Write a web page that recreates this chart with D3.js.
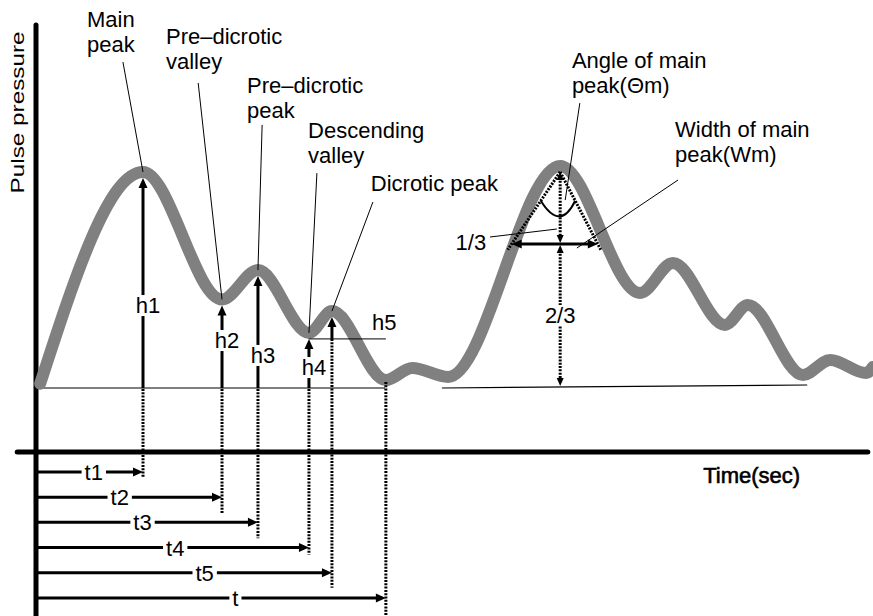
<!DOCTYPE html>
<html><head><meta charset="utf-8">
<script src="https://cdn.jsdelivr.net/npm/d3@7"></script>
<style>
body{margin:0;background:#fff}
text{font-family:"Liberation Sans",Arial,sans-serif;fill:#000}
</style>
</head><body>
<svg id="c" width="873" height="616"></svg>
<script>
// ---- data (time in s, relative pulse pressure) ----
const waveTime = [0.01,0.256,0.445,0.531,0.653,0.708,0.837,0.900,0.986,1.254,1.445,1.524,1.648,1.703,1.835,1.900,1.986,2.002];
const wavePressure = [0.02,1.0,0.41,0.546,0.255,0.356,0.037,0.093,0.051,1.028,0.44,0.579,0.292,0.384,0.06,0.13,0.069,0.097];

const featureLines = [["Main","peak"],["Pre–dicrotic","valley"],["Pre–dicrotic","peak"],["Descending","valley"],["Dicrotic peak"]];
const hLabels = ["h1","h2","h3","h4","h5"];
const featureTime = [0.256,0.445,0.531,0.653,0.708];
const featurePressure = [1.0,0.41,0.546,0.255,0.356];

const tLabels = ["t1","t2","t3","t4","t5","t"];
const tTimes = [0.256,0.445,0.531,0.653,0.708,0.837];

const peak2Time = 1.254, peak2Pressure = 1.028;
const wmTimes = [1.138,1.344];
const peak2Lines = [["Angle of main","peak(Θm)"],["Width of main","peak(Wm)"]];
const fracLabels = ["1/3","2/3"];
const axisLabels = ["Pulse pressure","Time(sec)"];

// ---- annotation layout (data coords) ----
const labelT = [0.122,0.311,0.505,0.651,0.801];
const labelP = [1.671,1.593,1.366,1.157,0.912];
const leaderT = [0.208,0.388,0.541,0.672,0.806];
const leaderP = [1.509,1.412,1.218,0.995,0.861];
const hLabelP = [0.347,0.185,0.116,0.060,0.269];
const tLabelFrac = [0.54,0.45,0.48,0.51,0.57,0.57];
const dotExtend = [6,16,16,7,15,20];

const svg = d3.select("#c");
const x = d3.scaleLinear().domain([0,2]).range([36,872]);
const y = d3.scaleLinear().domain([0,1]).range([388,172]);
const FS = 22;

function arrowHead(g,x1,y1,x2,y2,len,wid){
  const dx=x2-x1, dy=y2-y1, L=Math.hypot(dx,dy), ux=dx/L, uy=dy/L;
  const bx=x2-ux*len, by=y2-uy*len;
  g.append("path").attr("d",`M${x2},${y2}L${bx-uy*wid/2},${by+ux*wid/2}L${bx+uy*wid/2},${by-ux*wid/2}Z`).attr("fill","#000");
}
function arrow(g,x1,y1,x2,y2,o){
  o=Object.assign({w:3,len:10,wid:9,start:false,end:true,dash:null},o||{});
  const dx=x2-x1, dy=y2-y1, L=Math.hypot(dx,dy), ux=dx/L, uy=dy/L;
  const s=o.start?o.len*0.7:0, e=o.end?o.len*0.7:0;
  const ln=g.append("line").attr("x1",x1+ux*s).attr("y1",y1+uy*s).attr("x2",x2-ux*e).attr("y2",y2-uy*e)
    .attr("stroke","#000").attr("stroke-width",o.w);
  if(o.dash) ln.attr("stroke-dasharray",o.dash);
  if(o.end) arrowHead(g,x1,y1,x2,y2,o.len,o.wid);
  if(o.start) arrowHead(g,x2,y2,x1,y1,o.len,o.wid);
}
function line(g,x1,y1,x2,y2,w,dash){
  const l=g.append("line").attr("x1",x1).attr("y1",y1).attr("x2",x2).attr("y2",y2).attr("stroke","#000").attr("stroke-width",w);
  if(dash) l.attr("stroke-dasharray",dash);
  return l;
}
function boxedText(g,str,cx,by,anchor){
  const t=g.append("text").attr("x",cx).attr("y",by).attr("font-size",FS).attr("text-anchor",anchor||"middle").text(str);
  const b=t.node().getBBox();
  g.insert("rect",()=>t.node()).attr("x",b.x-3).attr("y",b.y+2).attr("width",b.width+6).attr("height",b.height-4).attr("fill","#fff");
  return t;
}

const gBase = svg.append("g"), gWave = svg.append("g"), gAnn = svg.append("g");

// baselines
line(gBase,x(0.002),y(0),x(0.835),y(0),1.2);
line(gBase,x(0.971),y(0),x(1.845),y(0.014),1.2);

// axes
const axisY = y(-0.296);
line(gBase,x(-0.045),axisY,x(1.99),axisY,5).attr("stroke-linecap","round");
line(gBase,x(0),y(1.68),x(0),640,5).attr("stroke-linecap","round");
gBase.append("text").attr("transform",`translate(${x(-0.043)+6},${y(1.276)}) rotate(-90)`)
  .attr("text-anchor","middle").attr("font-size",19).attr("textLength",162).attr("lengthAdjust","spacingAndGlyphs").text(axisLabels[0]);
gBase.append("text").attr("x",x(1.596)).attr("y",axisY+31).attr("font-size",22)
  .attr("stroke","#000").attr("stroke-width",0.6).attr("textLength",97).attr("lengthAdjust","spacingAndGlyphs").text(axisLabels[1]);

// waveform
const pts = waveTime.map((t,i)=>[t,wavePressure[i]]);
gWave.append("path").datum(pts)
  .attr("d",d3.line().x(d=>x(d[0])).y(d=>y(d[1])).curve(d3.curveMonotoneX))
  .attr("fill","none").attr("stroke","#808080").attr("stroke-width",12).attr("stroke-linecap","round").attr("stroke-linejoin","round");

// feature labels and leaders
featureLines.forEach((lines,i)=>{
  const t=gAnn.append("text").attr("x",x(labelT[i])).attr("y",y(labelP[i])).attr("font-size",FS);
  lines.forEach((s,j)=>t.append("tspan").attr("x",x(labelT[i])).attr("dy",j?25:0).text(s));
  line(gAnn,x(leaderT[i]),y(leaderP[i]),x(featureTime[i]),y(featurePressure[i]),1);
});

// h arrows
const DOT="2,1.3";
const h5LineY = y(featurePressure[3])+6;
featureTime.forEach((t,i)=>{
  const cx=x(t), tip=y(featurePressure[i])+6;
  if(i<4){
    arrow(gAnn,cx,y(0),cx,tip,{w:3});
  } else {
    arrow(gAnn,cx,h5LineY,cx,tip,{w:3});
  }
});
line(gAnn,x(featureTime[3]),h5LineY,x(0.837),h5LineY,1);
hLabels.forEach((s,i)=>{
  if(i<4) boxedText(gAnn,s,x(featureTime[i])+5,y(hLabelP[i]));
  else gAnn.append("text").attr("x",x(0.804)).attr("y",y(hLabelP[i])).attr("font-size",FS).text(s);
});

// t arrows and dotted drops
tTimes.forEach((t,i)=>{
  const ry = axisY + 20 + i*25.2, cx=x(t);
  const top = i<4 ? y(0)+1 : (i===4 ? h5LineY : y(0)-6);
  line(gAnn,cx,top,cx,ry+dotExtend[i],3,DOT);
  arrow(gAnn,x(0)+2,ry,cx,ry,{w:3});
  boxedText(gAnn,tLabels[i],x(0)+(cx-x(0))*tLabelFrac[i],ry+8);
});

// second peak annotations
const ax=x(peak2Time), ay=y(peak2Pressure)+6, by0=y(0)-2;
const wmY = ay + (y(0)-ay)/3;
const lx=x(wmTimes[0]), rx=x(wmTimes[1]);
line(gAnn,ax,ay,ax+(lx-ax)*1.08,ay+(wmY-ay)*1.08,3,DOT);
line(gAnn,ax,ay,ax+(rx-ax)*1.08,ay+(wmY-ay)*1.08,3,DOT);
const f=0.4;
gAnn.append("path").attr("d",`M${ax+(lx-ax)*f},${ay+(wmY-ay)*f}Q${ax},${ay+60} ${ax+(rx-ax)*f},${ay+(wmY-ay)*f}`)
  .attr("fill","none").attr("stroke","#000").attr("stroke-width",2);
arrow(gAnn,lx,wmY,rx,wmY,{w:3,start:true,end:true});
arrow(gAnn,ax,ay,ax,wmY-1,{w:3,start:true,end:true,dash:DOT,len:8,wid:7});
arrow(gAnn,ax,wmY+1,ax,by0,{w:3,start:true,end:true,dash:DOT,len:8,wid:7});
boxedText(gAnn,fracLabels[1],ax,(wmY+by0)/2+8).attr("font-size",FS);
// 1/3 label + leader
gAnn.append("text").attr("x",x(1.077)).attr("y",y(0.639)).attr("font-size",FS).attr("text-anchor","end").text(fracLabels[0]);
line(gAnn,x(1.086),y(0.699),x(1.246),y(0.736),1);
// angle / width labels
const p2T=[1.282,1.529], p2P=[1.481,1.162];
const p2LeadFrom=[[1.301,1.319],[1.536,0.963]], p2LeadTo=[[1.266,0.870],[1.294,0.648]];
peak2Lines.forEach((lines,i)=>{
  const t=gAnn.append("text").attr("x",x(p2T[i])).attr("y",y(p2P[i])).attr("font-size",FS);
  lines.forEach((s,j)=>t.append("tspan").attr("x",x(p2T[i])).attr("dy",j?25:0).text(s));
  line(gAnn,x(p2LeadFrom[i][0]),y(p2LeadFrom[i][1]),x(p2LeadTo[i][0]),y(p2LeadTo[i][1]),1);
});
</script>
</body></html>
